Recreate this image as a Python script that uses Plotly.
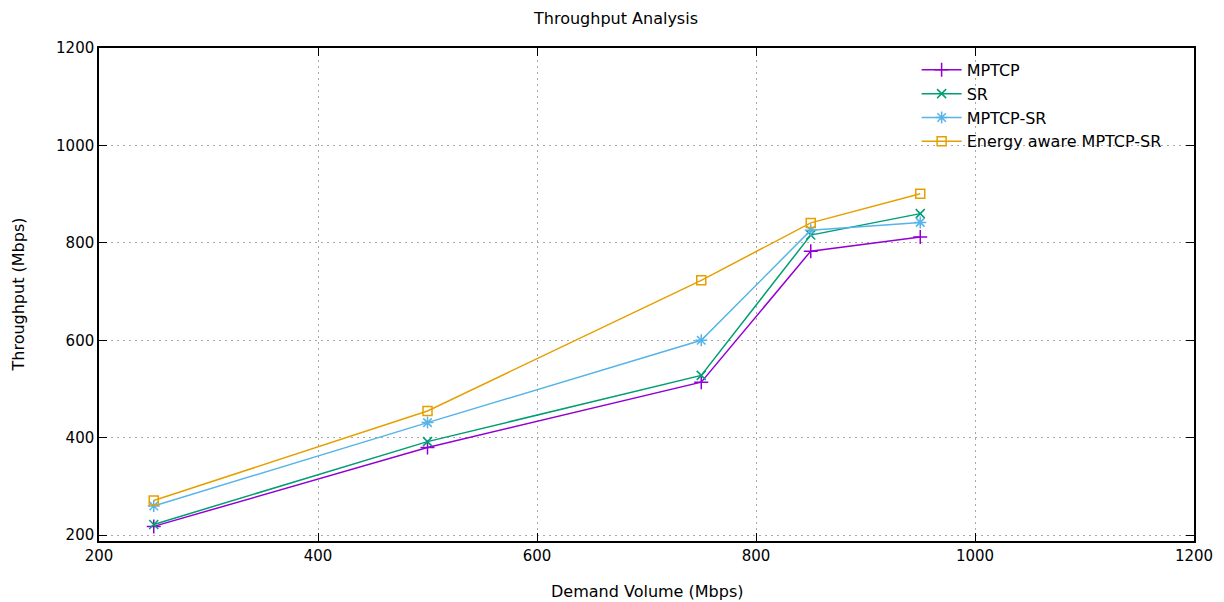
import plotly.graph_objects as go

demand = [250, 500, 750, 850, 950]
mptcp = [218, 380, 514, 783, 812]
sr = [222, 392, 528, 816, 860]
mptcp_sr = [260, 431, 600, 826, 842]
energy_aware = [271, 455, 723, 841, 901]

series = [
    ("MPTCP", mptcp, "#9400D3", "cross-thin-open", 10),
    ("SR", sr, "#009E73", "x-thin-open", 9),
    ("MPTCP-SR", mptcp_sr, "#56B4E9", "asterisk-open", 10),
    ("Energy aware MPTCP-SR", energy_aware, "#E69F00", "square-open", 9),
]

fig = go.Figure()
for name, vals, color, sym, size in series:
    fig.add_trace(go.Scatter(
        x=demand, y=vals, name=name, mode="lines+markers",
        line=dict(color=color, width=1.5),
        marker=dict(symbol=sym, size=size, color=color, line=dict(color=color, width=1.5)),
    ))

font = "DejaVu Sans, Verdana, sans-serif"
axis_common = dict(
    showline=True, linecolor="black", linewidth=1.5, mirror="allticks",
    ticks="inside", ticklen=8, tickcolor="black",
    showgrid=True, gridcolor="#A8A8A8", griddash="2px,4px", gridwidth=1,
    zeroline=False, tickfont=dict(family=font, size=15, color="black"),
    automargin=False,
)
fig.update_xaxes(range=[200, 1200], dtick=200, tick0=200, **axis_common)
fig.update_yaxes(range=[188, 1200], tickvals=[200, 400, 600, 800, 1000, 1200], **axis_common)

fig.add_annotation(text="Demand Volume (Mbps)", x=0.5, y=0, xref="paper", yref="paper",
                   xanchor="center", yanchor="middle", yshift=-50, showarrow=False,
                   font=dict(family=font, size=16, color="black"))
fig.add_annotation(text="Throughput (Mbps)", x=0, y=0.5, xref="paper", yref="paper",
                   xanchor="center", yanchor="middle", xshift=-81, textangle=-90, showarrow=False,
                   font=dict(family=font, size=16, color="black"))

fig.update_layout(
    width=1216, height=594,
    paper_bgcolor="white", plot_bgcolor="white",
    margin=dict(l=91, r=30, t=40, b=61),
    title=dict(text="Throughput Analysis", x=0.5, xanchor="center", y=0.983, yanchor="middle",
               font=dict(family=font, size=16, color="black")),
    legend=dict(x=0.975, y=0.99, xanchor="right", yanchor="top",
                bgcolor="rgba(0,0,0,0)", font=dict(family=font, size=16, color="black"),
                tracegroupgap=0, itemwidth=40),
    showlegend=True,
)

fig.write_html("out.html")
